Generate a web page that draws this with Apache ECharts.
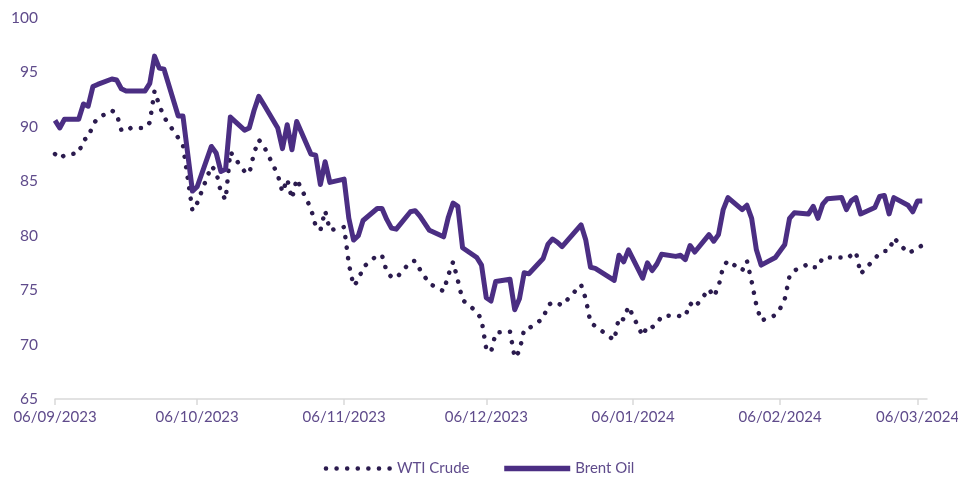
<!DOCTYPE html>
<html>
<head>
<meta charset="utf-8">
<title>WTI Crude vs Brent Oil</title>
<script src="https://cdn.jsdelivr.net/npm/echarts@6.0.0/dist/echarts.min.js"></script>
<style>
  html, body { margin: 0; padding: 0; background: #ffffff; }
  #oilchart { width: 958px; height: 477px; }
</style>
</head>
<body>
<div id="oilchart"></div>
<script>
// trading days shown on the chart
var dates = [
  '2023-09-06','2023-09-07','2023-09-08','2023-09-11','2023-09-12','2023-09-13','2023-09-14','2023-09-15',
  '2023-09-18','2023-09-19','2023-09-20','2023-09-21','2023-09-22','2023-09-25','2023-09-26','2023-09-27',
  '2023-09-28','2023-09-29','2023-10-02','2023-10-03','2023-10-05','2023-10-06','2023-10-09','2023-10-10',
  '2023-10-11','2023-10-12','2023-10-13','2023-10-16','2023-10-17','2023-10-18','2023-10-19','2023-10-20',
  '2023-10-23','2023-10-24','2023-10-25','2023-10-26','2023-10-27','2023-10-30','2023-10-31','2023-11-01',
  '2023-11-02','2023-11-03','2023-11-06','2023-11-07','2023-11-08','2023-11-09','2023-11-10','2023-11-13',
  '2023-11-14','2023-11-15','2023-11-16','2023-11-17','2023-11-20','2023-11-21','2023-11-22','2023-11-24',
  '2023-11-27','2023-11-28','2023-11-29','2023-11-30','2023-12-01','2023-12-04','2023-12-05','2023-12-06',
  '2023-12-07','2023-12-08','2023-12-11','2023-12-12','2023-12-13','2023-12-14','2023-12-15','2023-12-18',
  '2023-12-19','2023-12-20','2023-12-21','2023-12-22','2023-12-26','2023-12-27','2023-12-28','2023-12-29',
  '2024-01-02','2024-01-03','2024-01-04','2024-01-05','2024-01-08','2024-01-09','2024-01-10','2024-01-11',
  '2024-01-12','2024-01-15','2024-01-16','2024-01-17','2024-01-18','2024-01-19','2024-01-22','2024-01-23',
  '2024-01-24','2024-01-25','2024-01-26','2024-01-29','2024-01-30','2024-01-31','2024-02-01','2024-02-02',
  '2024-02-05','2024-02-06','2024-02-07','2024-02-08','2024-02-09','2024-02-12','2024-02-13','2024-02-14',
  '2024-02-15','2024-02-16','2024-02-19','2024-02-20','2024-02-21','2024-02-22','2024-02-23','2024-02-26',
  '2024-02-27','2024-02-28','2024-02-29','2024-03-01','2024-03-04','2024-03-05','2024-03-06','2024-03-07'
];

var wti = [
  87.5, 87.1, 87.4, 87.6, 88.8, 89.0, 90.2, 90.8,
  91.5, 91.2, 89.7, 89.6, 89.9, 89.9, 90.4, 93.3,
  92.0, 90.9, 89.0, 88.3, 82.3, 83.0, 86.4, 85.9,
  84.0, 83.3, 87.7, 85.9, 85.7, 87.6, 88.8, 88.3,
  85.6, 84.0, 85.2, 83.4, 85.2, 82.5, 80.9, 80.5,
  82.3, 80.5, 80.8, 77.4, 75.4, 75.9, 77.1, 78.2,
  78.2, 76.7, 76.2, 76.1, 77.6, 77.7, 76.9, 75.6,
  74.9, 76.4, 77.6, 75.9, 74.1, 73.0, 72.3, 69.6,
  69.3, 71.1, 71.2, 68.8, 69.4, 71.4, 71.5, 72.4,
  73.6, 73.9, 73.8, 73.6, 75.5, 74.2, 72.0, 71.7,
  70.4, 72.5, 72.3, 73.5, 70.8, 71.7, 71.6, 71.9,
  72.6, 72.7, 72.6, 72.6, 73.8, 73.4, 75.1, 74.4,
  75.3, 77.2, 77.7, 76.8, 77.7, 75.8, 73.6, 72.2,
  72.7, 73.3, 74.2, 76.3, 76.8, 77.4, 77.1, 77.1,
  78.0, 78.0, 78.0, 77.9, 78.2, 78.5, 76.5, 77.9,
  78.4, 78.6, 78.6, 79.8, 78.4, 78.6, 78.9, 79.1
];

var brent = [
  90.6, 89.9, 90.7, 90.7, 92.1, 91.9, 93.7, 93.9,
  94.4, 94.3, 93.5, 93.3, 93.3, 93.3, 94.0, 96.5,
  95.4, 95.3, 91.0, 91.0, 84.1, 84.5, 88.2, 87.6,
  85.9, 86.1, 90.9, 89.7, 89.9, 91.5, 92.8, 92.1,
  89.9, 88.0, 90.2, 87.9, 90.5, 87.5, 87.4, 84.7,
  86.8, 84.9, 85.2, 81.6, 79.6, 80.0, 81.4, 82.5,
  82.5, 81.5, 80.7, 80.6, 82.2, 82.3, 81.8, 80.5,
  79.9, 81.7, 83.0, 82.7, 78.9, 78.0, 77.3, 74.3,
  74.0, 75.8, 76.0, 73.2, 74.2, 76.6, 76.5, 77.9,
  79.2, 79.7, 79.4, 79.0, 81.0, 79.6, 77.1, 77.0,
  75.9, 78.2, 77.6, 78.7, 76.1, 77.5, 76.8, 77.4,
  78.3, 78.1, 78.2, 77.8, 79.1, 78.5, 80.1, 79.5,
  80.1, 82.4, 83.5, 82.4, 82.8, 81.6, 78.7, 77.3,
  78.0, 78.6, 79.2, 81.6, 82.1, 82.0, 82.7, 81.6,
  82.9, 83.4, 83.5, 82.4, 83.2, 83.5, 82.0, 82.6,
  83.6, 83.7, 82.0, 83.5, 82.8, 82.2, 83.2, 83.2
];

// axis runs day by day; labels fall on the 6th of each month
var axisStart = '2023-09-06';
var axisEnd = '2024-03-08';
var labelDay = '06';

var textColor = '#5f4b8b';

function pad(n) { return n < 10 ? '0' + n : '' + n; }
function fmt(d) { return d.getFullYear() + '-' + pad(d.getMonth() + 1) + '-' + pad(d.getDate()); }

// every calendar day between start and end
var days = [];
var p = axisStart.split('-');
var cur = new Date(+p[0], +p[1] - 1, +p[2], 12);
while (fmt(cur) <= axisEnd) {
    days.push(fmt(cur));
    cur.setDate(cur.getDate() + 1);
}

function align(values) {
    var map = {};
    dates.forEach(function (d, i) { map[d] = values[i]; });
    return days.map(function (d) { return map[d] === undefined ? null : map[d]; });
}

function isLabelDay(index, value) {
    return value.slice(8) === labelDay;
}

var myChart = echarts.init(document.getElementById('oilchart'));

var option = {
    animation: false,
    grid: {
        left: 55,
        right: 31,
        top: 18,
        bottom: 78,
        containLabel: false,
        outerBoundsMode: 'none'
    },
    legend: {
        top: 456,
        left: 'center',
        itemWidth: 66,
        itemHeight: 14,
        itemGap: 32,
        textStyle: { color: textColor, fontSize: 15, fontFamily: 'Lato' },
        data: [
            { name: 'WTI Crude', lineStyle: { width: 4.5 }, itemStyle: { opacity: 0 } },
            { name: 'Brent Oil', lineStyle: { width: 5.5 }, itemStyle: { opacity: 0 } }
        ]
    },
    xAxis: {
        type: 'category',
        boundaryGap: false,
        data: days,
        axisLine: { show: true, lineStyle: { color: '#d9d9d9', width: 1.5 } },
        axisTick: {
            show: true,
            interval: isLabelDay,
            length: 6,
            lineStyle: { color: '#d9d9d9', width: 1.5 }
        },
        splitLine: { show: false },
        axisLabel: {
            interval: isLabelDay,
            color: textColor,
            fontSize: 15,
            fontFamily: 'Lato',
            margin: 11,
            formatter: function (v) {
                var s = v.split('-');
                return s[2] + '/' + s[1] + '/' + s[0];
            }
        }
    },
    yAxis: {
        type: 'value',
        min: 65,
        max: 100,
        interval: 5,
        axisLine: { show: false },
        axisTick: { show: false },
        splitLine: { show: false },
        axisLabel: {
            color: textColor,
            fontSize: 15.5,
            fontFamily: 'Lato',
            margin: 17
        }
    },
    series: [
        {
            name: 'WTI Crude',
            type: 'line',
            symbol: 'none',
            connectNulls: true,
            color: '#2b1b4e',
            lineStyle: {
                color: '#2b1b4e',
                width: 4.5,
                type: [0.1, 10.5],
                cap: 'round'
            },
            data: align(wti)
        },
        {
            name: 'Brent Oil',
            type: 'line',
            symbol: 'none',
            connectNulls: true,
            color: '#4b2e83',
            lineStyle: {
                color: '#4b2e83',
                width: 5,
                join: 'round'
            },
            data: align(brent)
        }
    ]
};

myChart.setOption(option);
</script>
</body>
</html>
